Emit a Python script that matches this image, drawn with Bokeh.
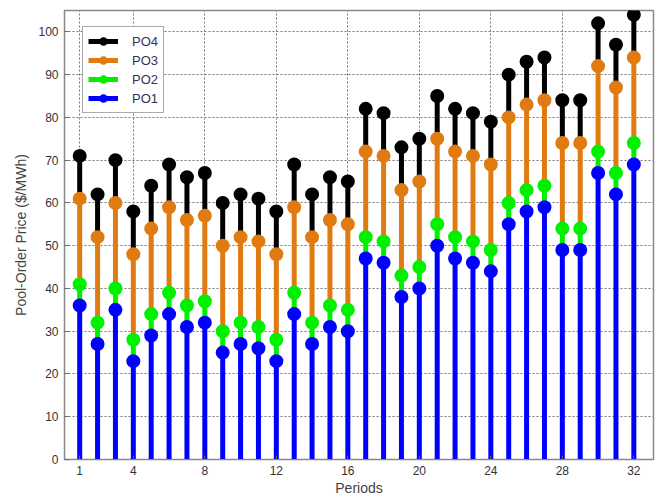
from bokeh.plotting import figure
from bokeh.models import Range1d, FixedTicker, Legend, LegendItem
from bokeh.embed import file_html
from bokeh.resources import INLINE

# Pool-order prices per period ($/MWh), cumulative levels PO1..PO4
periods = list(range(1, 33))
po1 = [36, 27, 35, 23, 29, 34, 31, 32, 25, 27, 26, 23, 34, 27, 31, 30,
       47, 46, 38, 40, 50, 47, 46, 44, 55, 58, 59, 49, 49, 67, 62, 69]
po2 = [41, 32, 40, 28, 34, 39, 36, 37, 30, 32, 31, 28, 39, 32, 36, 35,
       52, 51, 43, 45, 55, 52, 51, 49, 60, 63, 64, 54, 54, 72, 67, 74]
po3 = [61, 52, 60, 48, 54, 59, 56, 57, 50, 52, 51, 48, 59, 52, 56, 55,
       72, 71, 63, 65, 75, 72, 71, 69, 80, 83, 84, 74, 74, 92, 87, 94]
po4 = [71, 62, 70, 58, 64, 69, 66, 67, 60, 62, 61, 58, 69, 62, 66, 65,
       82, 81, 73, 75, 85, 82, 81, 79, 90, 93, 94, 84, 84, 102, 97, 104]
base = [0] * len(periods)

x_ticks = [1, 4, 8, 12, 16, 20, 24, 28, 32]
y_ticks = [0, 10, 20, 30, 40, 50, 60, 70, 80, 90, 100]

colors = {"PO1": "#0000FF", "PO2": "#00F000", "PO3": "#E07B12", "PO4": "#000000"}
FONT = "Liberation Sans"

p = figure(width=657, height=502, output_backend="svg", toolbar_location=None,
           x_range=Range1d(0.15, 33.1), y_range=Range1d(0, 105))
p.min_border_left = 64
p.min_border_right = 4
p.min_border_top = 10
p.min_border_bottom = 43
p.background_fill_color = "white"
p.border_fill_color = "white"
p.outline_line_color = "#888888"
p.outline_line_width = 1.5

# stems: each level rises from the previous one
levels = [("PO1", base, po1), ("PO2", po1, po2), ("PO3", po2, po3), ("PO4", po3, po4)]
segs = {}
for name, lo, hi in levels:
    segs[name] = p.segment(x0=periods, y0=lo, x1=periods, y1=hi,
                           line_color=colors[name], line_width=5)
dots = {}
for name, lo, hi in levels:
    dots[name] = p.scatter(x=periods, y=hi, marker="circle", size=12.5,
                           fill_color=colors[name], line_color=colors[name],
                           line_width=1.5)

# axes
p.xaxis.ticker = FixedTicker(ticks=x_ticks)
p.yaxis.ticker = FixedTicker(ticks=y_ticks)
for ax in (p.xaxis[0], p.yaxis[0]):
    ax.axis_line_color = "#888888"
    ax.major_tick_line_color = "#666666"
    ax.major_tick_in = 4
    ax.major_tick_out = 0
    ax.minor_tick_line_color = None
    ax.major_label_text_font = FONT
    ax.major_label_text_font_size = "12px"
    ax.major_label_text_color = "#333333"
    ax.axis_label_text_font = FONT
    ax.axis_label_text_font_size = "14px"
    ax.axis_label_text_font_style = "normal"
    ax.axis_label_text_color = "#444444"
p.xaxis.axis_label = "Periods"
p.yaxis.axis_label = "Pool-Order Price ($/MWh)"
p.xaxis.major_label_standoff = 6
p.xaxis.axis_label_standoff = 2
p.yaxis.major_label_standoff = 6
p.yaxis.axis_label_standoff = 6

# dotted grid
for g in (p.xgrid[0], p.ygrid[0]):
    g.grid_line_color = "#777777"
    g.grid_line_dash = "2 2"
    g.grid_line_width = 1
p.xgrid.ticker = FixedTicker(ticks=x_ticks)
p.ygrid.ticker = FixedTicker(ticks=y_ticks)

legend = Legend(items=[LegendItem(label=n, renderers=[segs[n], dots[n]])
                       for n in ("PO4", "PO3", "PO2", "PO1")],
                location=(18, 346))
legend.label_text_font = FONT
legend.label_text_font_size = "13px"
legend.label_text_color = "#333355"
legend.glyph_width = 30
legend.glyph_height = 18
legend.label_height = 18
legend.spacing = 1
legend.padding = 5
legend.margin = 0
legend.label_standoff = 14
legend.border_line_color = "#555555"
legend.border_line_width = 1.5
legend.background_fill_alpha = 1
p.add_layout(legend)

open("out.html", "w").write(file_html(p, INLINE))
